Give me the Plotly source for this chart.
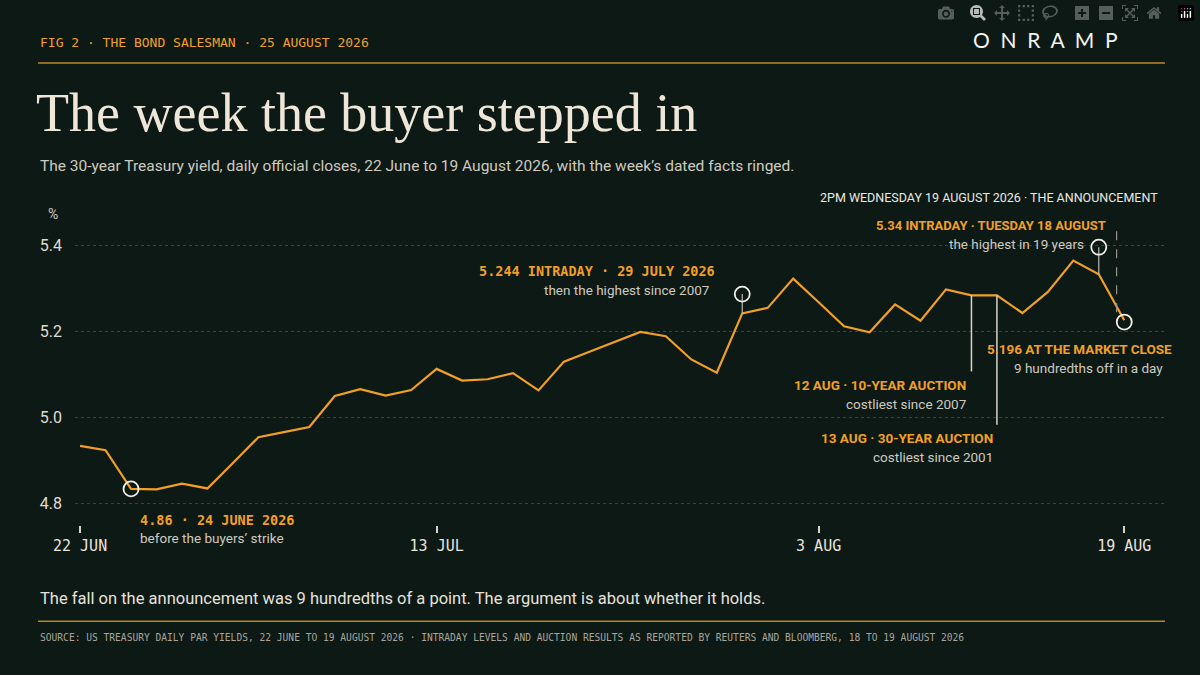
import plotly.graph_objects as go

# trading days, 22 June to 19 August 2026 (3 July holiday skipped)
dates = ["22 Jun", "23 Jun", "24 Jun", "25 Jun", "26 Jun", "29 Jun", "30 Jun", "1 Jul", "2 Jul",
         "6 Jul", "7 Jul", "8 Jul", "9 Jul", "10 Jul", "13 Jul", "14 Jul", "15 Jul", "16 Jul", "17 Jul",
         "20 Jul", "21 Jul", "22 Jul", "23 Jul", "24 Jul", "27 Jul", "28 Jul", "29 Jul", "30 Jul", "31 Jul",
         "3 Aug", "4 Aug", "5 Aug", "6 Aug", "7 Aug", "10 Aug", "11 Aug", "12 Aug", "13 Aug", "14 Aug",
         "17 Aug", "18 Aug", "19 Aug"]
yields = [4.934, 4.924, 4.834, 4.833, 4.846, 4.835, 4.894, 4.954, 4.966, 4.978, 5.050, 5.066, 5.051,
          5.064, 5.113, 5.086, 5.089, 5.103, 5.063, 5.130, 5.153, 5.176, 5.199, 5.189, 5.135, 5.104,
          5.242, 5.255, 5.323, 5.268, 5.212, 5.198, 5.263, 5.225, 5.298, 5.284, 5.284, 5.243, 5.292,
          5.365, 5.333, 5.226]
tick_dates = ["22 Jun", "13 Jul", "3 Aug", "19 Aug"]
tick_labels = ["22 JUN", "13 JUL", "3 AUG", "19 AUG"]

# ringed facts: (date, ring level as drawn)
ring_dates = ["24 Jun", "29 Jul", "18 Aug", "19 Aug"]
ring_levels = [4.834, 5.287, 5.396, 5.222]
# auction markers: (date slot, bottom of drop line)
auction_dates = ["11 Aug", "12 Aug"]
auction_bottoms = [5.107, 4.983]

BG = "#0d1915"
ORANGE = "#f2a024"
GOLD = "#b8862c"
CREAM = "#eee6d8"
GREY = "#cfcac0"
MONO = "DejaVu Sans Mono"
SANS = "Roboto"

idx = {d: i for i, d in enumerate(dates)}
xs = list(range(len(dates)))

W, H = 1200, 675
L, R, T, B = 75, 35, 223.5, 149.5


def px(x, y):
    return (x - L) / (W - L - R), 1 - (y - T) / (H - T - B)


fig = go.Figure()

fig.add_trace(go.Scatter(x=xs, y=yields, mode="lines",
                         line=dict(color=ORANGE, width=2.2), hoverinfo="skip"))

# stems from rings to the line
for d, lv in zip(ring_dates, ring_levels):
    i = idx[d]
    if abs(lv - yields[i]) > 0.02:
        fig.add_trace(go.Scatter(x=[i, i], y=[lv, yields[i]], mode="lines",
                                 line=dict(color="#bdb8ae", width=1.2), hoverinfo="skip"))

for d, lo in zip(auction_dates, auction_bottoms):
    i = idx[d]
    fig.add_trace(go.Scatter(x=[i, i], y=[yields[i], lo], mode="lines",
                             line=dict(color="#d8d3c9", width=1.5), hoverinfo="skip"))

# announcement, 2pm on 19 August
ann_x = idx["19 Aug"] - 0.3
fig.add_trace(go.Scatter(x=[ann_x, ann_x], y=[5.475, 5.235], mode="lines",
                         line=dict(color="#9a968e", width=1.2, dash="dash"), hoverinfo="skip",
                         cliponaxis=False))

fig.add_trace(go.Scatter(x=[idx[d] for d in ring_dates], y=ring_levels, mode="markers",
                         marker=dict(symbol="circle-open", size=15, color="#f2efe8",
                                     line=dict(width=1.8)), hoverinfo="skip"))

ann = []


def text(x, y, s, color, size, font=SANS, anchor="left", bold=False):
    xp, yp = px(x, y)
    ann.append(dict(x=xp, y=yp, xref="paper", yref="paper", text=f"<b>{s}</b>" if bold else s,
                    showarrow=False, xanchor=anchor, yanchor="middle",
                    font=dict(color=color, size=size, family=font)))


text(38, 41, "FIG 2 · THE BOND SALESMAN · 25 AUGUST 2026", ORANGE, 13, MONO)
text(1120, 38, "O  N  R  A  M  P", "#f4f2ee", 21, "Lato", anchor="right")
text(34, 112, "The week the buyer stepped in", CREAM, 54, "Liberation Serif")
text(38, 165, "The 30-year Treasury yield, daily official closes, 22 June to 19 August 2026, with the week’s dated facts ringed.",
     GREY, 15.5)
text(46, 213, "%", GREY, 14, anchor="left")

text(138, 520, "4.86 · 24 JUNE 2026", ORANGE, 13.5, MONO, bold=True)
text(138, 529 + 10, "before the buyers’ strike", GREY, 13.5)
text(717, 271, "5.244 INTRADAY · 29 JULY 2026", ORANGE, 13.5, MONO, anchor="right", bold=True)
text(711, 290, "then the highest since 2007", GREY, 13.5, anchor="right")
text(1160, 197, "2PM WEDNESDAY 19 AUGUST 2026 · THE ANNOUNCEMENT", "#ece8e0", 12.5, anchor="right")
text(1108, 225, "5.34 INTRADAY · TUESDAY 18 AUGUST", ORANGE, 13, anchor="right", bold=True)
text(1086, 244, "the highest in 19 years", GREY, 13.5, anchor="right")
text(1174, 349, "5.196 AT THE MARKET CLOSE", ORANGE, 13.5, anchor="right", bold=True)
text(1165, 368, "9 hundredths off in a day", GREY, 13.5, anchor="right")
text(968, 385, "12 AUG · 10-YEAR AUCTION", ORANGE, 13.5, anchor="right", bold=True)
text(968, 404, "costliest since 2007", GREY, 13.5, anchor="right")
text(995, 438, "13 AUG · 30-YEAR AUCTION", ORANGE, 13.5, anchor="right", bold=True)
text(995, 457, "costliest since 2001", GREY, 13.5, anchor="right")

text(38, 599, "The fall on the announcement was 9 hundredths of a point. The argument is about whether it holds.",
     "#e6e2da", 16.5)
text(38, 638, "SOURCE: US TREASURY DAILY PAR YIELDS, 22 JUNE TO 19 AUGUST 2026 · INTRADAY LEVELS AND AUCTION RESULTS AS REPORTED BY REUTERS AND BLOOMBERG, 18 TO 19 AUGUST 2026",
     "#a9a59c", 9.6, MONO)

shapes = []
for yy in (62, 622):
    x0, y0 = px(38, yy)
    x1, _ = px(1165, yy)
    shapes.append(dict(type="line", xref="paper", yref="paper", x0=x0, x1=x1, y0=y0, y1=y0,
                       line=dict(color=GOLD, width=1.5)))

fig.update_layout(
    width=W, height=H, paper_bgcolor=BG, plot_bgcolor=BG,
    margin=dict(l=L, r=R, t=T, b=B), showlegend=False,
    annotations=ann, shapes=shapes,
    xaxis=dict(range=[-0.2, 42.6], showgrid=False, zeroline=False, showline=False,
               tickvals=[idx[d] for d in tick_dates], ticktext=tick_labels,
               ticks="outside", ticklen=7, tickcolor="#d8d3c9", tickwidth=1.5,
               tickfont=dict(family=MONO, size=15, color="#e8e4dc")),
    yaxis=dict(range=[4.75, 5.45], tickvals=[4.8, 5.0, 5.2, 5.4], ticktext=["4.8", "5.0", "5.2", "5.4"],
               showgrid=True, gridcolor="#3a443f", griddash="dot", gridwidth=1,
               zeroline=False, showline=False, ticks="", ticklabelstandoff=12,
               tickfont=dict(family=SANS, size=16, color="#e0dcd4")),
)

fig.write_html("out.html",
               post_script="document.body.style.margin='0';document.body.style.background='#0d1915';")
